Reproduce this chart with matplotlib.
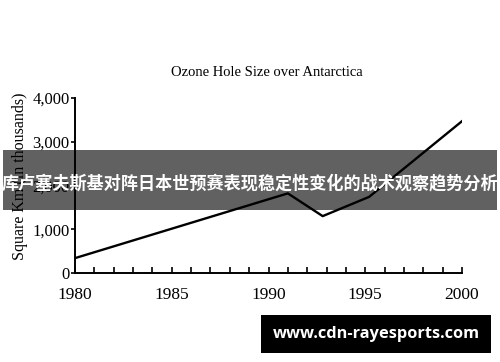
import matplotlib
matplotlib.use('Agg')
import matplotlib.pyplot as plt
import matplotlib.patches as patches

# values
years = [1980, 1991, 1992.8, 1995.2, 2000]
area = [340, 1820, 1300, 1740, 3470]

y_ticks = [0, 1000, 2000, 3000, 4000]
y_tick_labels = ['0', '1,000', '2,000', '3,000', '4,000']
x_ticks = list(range(1980, 2001))
x_tick_labels = [str(y) if y % 5 == 0 else '' for y in x_ticks]

title = 'Ozone Hole Size over Antarctica'
y_label = 'Square Km (in thousands)'
banner = '库卢塞夫斯基对阵日本世预赛表现稳定性变化的战术观察趋势分析'
watermark = 'www.cdn-rayesports.com'

serif = 'Liberation Serif'

fig = plt.figure(figsize=(5, 3.62), dpi=100)
fig.patch.set_facecolor('white')

# axes box: x 75..462 px, y 98..273 px
ax = fig.add_axes([0.15, 89 / 362, (462 - 75) / 500, (273 - 98) / 362])
ax.plot(years, area, color='black', linewidth=1.7)

ax.set_xlim(1980, 2000)
ax.set_ylim(0, 4000)
for side in ['top', 'right']:
    ax.spines[side].set_visible(False)
for side in ['left', 'bottom']:
    ax.spines[side].set_linewidth(1.4)

ax.set_xticks(x_ticks)
ax.set_xticklabels(x_tick_labels, fontfamily=serif, fontsize=12.5)
ax.tick_params(axis='x', direction='in', length=4, width=1.2, pad=10)

ax.set_yticks(y_ticks)
ax.set_yticklabels(y_tick_labels, fontfamily=serif, fontsize=12)
ax.tick_params(axis='y', direction='out', length=3, width=1.2, pad=1)

fig.text(0.534, (362 - 72) / 362, title, ha='center', va='center',
         fontfamily=serif, fontsize=10.5)
fig.text(0.04, (362 - 176) / 362, y_label, ha='center', va='center',
         rotation=90, fontfamily=serif, fontsize=11.5)

# dark translucent banner with headline across the middle
fig.patches.append(patches.Rectangle((3 / 500, (362 - 210) / 362), 494 / 500, 60 / 362,
                                     transform=fig.transFigure, facecolor='black',
                                     alpha=0.62, edgecolor='none', zorder=5))
fig.text(0.5, (362 - 183) / 362, banner, ha='center', va='center', color='white',
         fontfamily=['Noto Sans CJK SC', 'DejaVu Sans'], fontweight='bold',
         fontsize=12.3, zorder=6)

# watermark box
fig.patches.append(patches.Rectangle((261 / 500, (362 - 353) / 362), 230 / 500, 38 / 362,
                                     transform=fig.transFigure, facecolor='black',
                                     edgecolor='none', zorder=5))
fig.text(376 / 500, (362 - 334) / 362, watermark, ha='center', va='center', color='white',
         fontfamily='Open Sans', fontweight='bold', fontsize=11.8, zorder=6)

fig.savefig('out.png', dpi=100)
